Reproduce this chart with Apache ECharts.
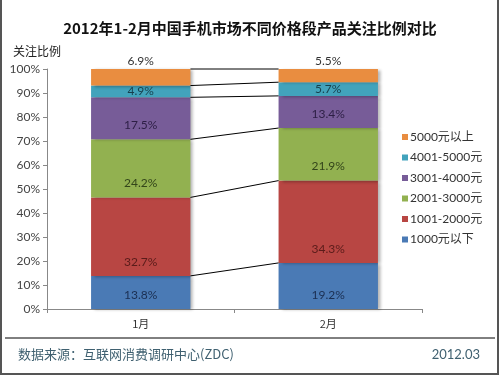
<!DOCTYPE html>
<html><head><meta charset="utf-8">
<script src="https://cdn.jsdelivr.net/npm/echarts@6/dist/echarts.min.js"></script>
<style>html,body{margin:0;padding:0;background:#fff}#c{width:500px;height:375px}</style>
</head><body><div id="c"></div>
<script>
const categories = ['1月', '2月'];
const seriesNames = ['1000元以下', '1001-2000元', '2001-3000元', '3001-4000元', '4001-5000元', '5000元以上'];
const s1000below = [13.8, 19.2];
const s1001_2000 = [32.7, 34.3];
const s2001_3000 = [24.2, 21.9];
const s3001_4000 = [17.5, 13.4];
const s4001_5000 = [4.9, 5.7];
const s5000above = [6.9, 5.5];
const yTicks = [0, 10, 20, 30, 40, 50, 60, 70, 80, 90, 100];

const values = [s1000below, s1001_2000, s2001_3000, s3001_4000, s4001_5000, s5000above];
const colors = ['#4A7AB5', '#B84643', '#92B150', '#775C98', '#42A3BC', '#E98D40'];
const labelColors = ['#1b2f52', '#5a1c1a', '#33451a', '#2d1f45', '#163f4c', '#333333'];
const FONT = "Lato, 'Noto Sans CJK SC', sans-serif";
const BAR_W = 0.53;

// cumulative boundaries for connector lines
const boundaries = [];
let c0 = 0, c1 = 0;
values.forEach(v => { c0 += v[0]; c1 += v[1]; boundaries.push([0, Math.round(c0*10)/10, Math.round(c1*10)/10]); });

const chart = echarts.init(document.getElementById('c'), null, {renderer: 'canvas'});

const barSeries = seriesNames.map((name, i) => {
  let label;
  if (i === 5) label = {show: true, position: 'top', distance: 2};
  else if (i === 4) label = {show: true, position: 'inside'};
  else label = {show: true, position: 'insideBottom', distance: 8};
  Object.assign(label, {color: labelColors[i], fontSize: 12, fontFamily: FONT, formatter: p => p.value.toFixed(1) + '%'});
  return {
    name, type: 'bar', stack: 'total', barWidth: (BAR_W*100) + '%',
    data: values[i],
    itemStyle: {color: colors[i], shadowColor: 'rgba(0,0,0,0.3)', shadowBlur: 3, shadowOffsetX: 3, shadowOffsetY: 1},
    label, z: 2
  };
});

const connector = {
  type: 'custom', name: 'conn', z: 3, silent: true,
  encode: {x: 0, y: 1},
  data: boundaries,
  renderItem: (params, api) => {
    const p1 = api.coord([0, api.value(1)]);
    const p2 = api.coord([1, api.value(2)]);
    const band = api.size([1, 0])[0];
    const hw = band * BAR_W / 2;
    return {
      type: 'line',
      shape: {x1: p1[0] + hw, y1: p1[1], x2: p2[0] - hw, y2: p2[1]},
      style: {stroke: '#000', lineWidth: 1}
    };
  }
};

chart.setOption({
  animation: false,
  textStyle: {fontFamily: FONT},
  title: [{
    text: '2012年1-2月中国手机市场不同价格段产品关注比例对比',
    left: 'center', top: 16,
    textStyle: {fontSize: 15, fontWeight: 'bold', color: '#111', fontFamily: "'Noto Sans CJK SC', sans-serif"}
  }, {
    text: '关注比例', left: 8, top: 40,
    textStyle: {fontSize: 12, fontWeight: 'normal', color: '#222', fontFamily: "'Noto Sans CJK SC', sans-serif"}
  }],
  legend: {
    orient: 'vertical', left: 397, top: 126,
    data: seriesNames.slice().reverse(),
    icon: 'rect', itemWidth: 6, itemHeight: 6, itemGap: 8.5,
    textStyle: {fontSize: 12, color: '#333', fontFamily: FONT, padding: [0,0,0,-3]}
  },
  grid: {left: 47, right: 78, top: 69, bottom: 66},
  xAxis: {
    type: 'category', data: categories,
    axisLine: {lineStyle: {color: '#888'}},
    axisTick: {show: true, length: 4, lineStyle: {color: '#888'}},
    axisLabel: {color: '#333', fontSize: 11, margin: 9, fontFamily: "'Noto Sans CJK SC', sans-serif"}
  },
  yAxis: {
    type: 'value', min: yTicks[0], max: yTicks[yTicks.length-1], interval: 10,
    axisLine: {show: true, lineStyle: {color: '#888'}},
    axisTick: {show: true, length: 4, lineStyle: {color: '#888'}},
    splitLine: {show: false},
    axisLabel: {color: '#444', fontSize: 12, margin: 7, fontFamily: FONT, formatter: '{value}%'}
  },
  series: barSeries.concat([connector]),
  graphic: [
    {type: 'line', shape: {x1: 5, y1: 338, x2: 495, y2: 338}, style: {stroke: '#000', lineWidth: 1}},
    {type: 'text', left: 18, top: 348, style: {text: '数据来源：互联网消费调研中心(ZDC)', fill: '#3f6070', font: "13px 'Noto Sans CJK SC', sans-serif"}},
    {type: 'text', right: 20, top: 348, style: {text: '2012.03', fill: '#3f6070', font: "13px Lato, sans-serif"}},
    {type: 'polyline', shape: {points: [[1, 0], [1, 374], [498, 374], [498, 0]]}, style: {stroke: '#555', lineWidth: 2, fill: null}}
  ]
});
</script></body></html>
